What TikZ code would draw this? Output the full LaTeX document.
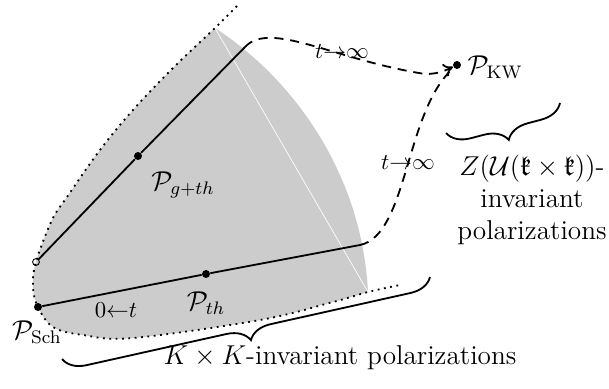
\documentclass[tikz,border=0pt]{standalone}
\usepackage{amsmath,amssymb}
\usetikzlibrary{decorations.pathreplacing,arrows.meta}
\begin{document}
\begin{tikzpicture}[x=0.44pt,y=-0.44pt,
  dotline/.style={thick,dotted},
  dashline/.style={thick,dash pattern=on 4pt off 3pt},
  solidline/.style={thick},
  dot/.style={circle,fill,inner sep=0pt,minimum size=3.5pt},
  odot/.style={circle,draw,inner sep=0pt,minimum size=3pt,thin},
  lbl/.style={inner sep=1pt,font=\large},
  small lbl/.style={inner sep=1pt},
  bracedeco/.style={decorate,decoration={brace,amplitude=10pt},thick}]
\useasboundingbox (0,0) rectangle (609,389);
% key points
\coordinate (T) at (215,28);
\coordinate (F) at (368,292);
\coordinate (G) at (245,47);
\coordinate (H) at (360,245);
% gray region
\fill[gray!40] plot[smooth,tension=0.6] coordinates {(215,28) (173,68) (133,110) (100,150) (67,197) (52,220) (36,262) (33,287) (38,307) (53,327) (83,335) (133,338) (260,320) (333,302) (368,292)}
  .. controls (362,175) and (295,80) .. (T) -- cycle;
\draw[white,line width=0.3pt] (T) -- (F);
% dotted boundary
\draw[dotline] plot[smooth,tension=0.6] coordinates {(237,6) (215,28) (173,68) (133,110) (100,150) (67,197) (52,220) (36,262) (33,287) (38,307) (53,327) (83,335) (133,338) (260,320) (333,302) (368,292) (400,285)};
% nodes
\node[odot] (C) at (36,262) {};
\node[dot] (S) at (38,307) {};
\node[dot] (Pgth) at (138,156) {};
\node[dot] (Pth) at (206,274) {};
\node[dot] (KW) at (457,65) {};
% solid lines
\draw[solidline] (C) -- (Pgth) -- (G);
\draw[solidline] (S) -- (Pth) -- (H);
% dashed
\draw[dashline,-{To[length=4pt,width=6pt]}] (G) .. controls (270,20) and (335,60) .. (425,74)
  .. controls (440,74) and (446,70) .. (KW);
\draw[dashline] (H) .. controls (408,235) and (405,110) .. (KW);
% labels
\node[lbl,anchor=west] (lKW) at (465,67) {$\mathcal{P}_{\mathrm{KW}}$};
\node[lbl] (lSch) at (37,332) {$\mathcal{P}_{\mathrm{Sch}}$};
\node[lbl] (lth) at (206,303) {$\mathcal{P}_{th}$};
\node[lbl] (lgth) at (183,185) {$\mathcal{P}_{g+th}$};
\node[small lbl] (l0) at (116,310) {$0{\leftarrow}t$};
\node[small lbl] (linf1) at (342,52) {$t{\to}\infty$};
\node[small lbl] (linf2) at (408,163) {$t{\to}\infty$};
\node[lbl,align=center] (lZ) at (532,200) {$Z(\mathcal{U}(\mathfrak{k}\times\mathfrak{k}))$-\\invariant\\polarizations};
\node[lbl] (lKK) at (340,358) {$K\times K$-invariant polarizations};
% braces
\coordinate (b1a) at (430,277);
\coordinate (b1b) at (62,359);
\draw[bracedeco] (b1a) -- (b1b);
\coordinate (b2a) at (560,103);
\coordinate (b2b) at (446,133);
\draw[bracedeco] (b2a) -- (b2b);
\end{tikzpicture}
\end{document}
